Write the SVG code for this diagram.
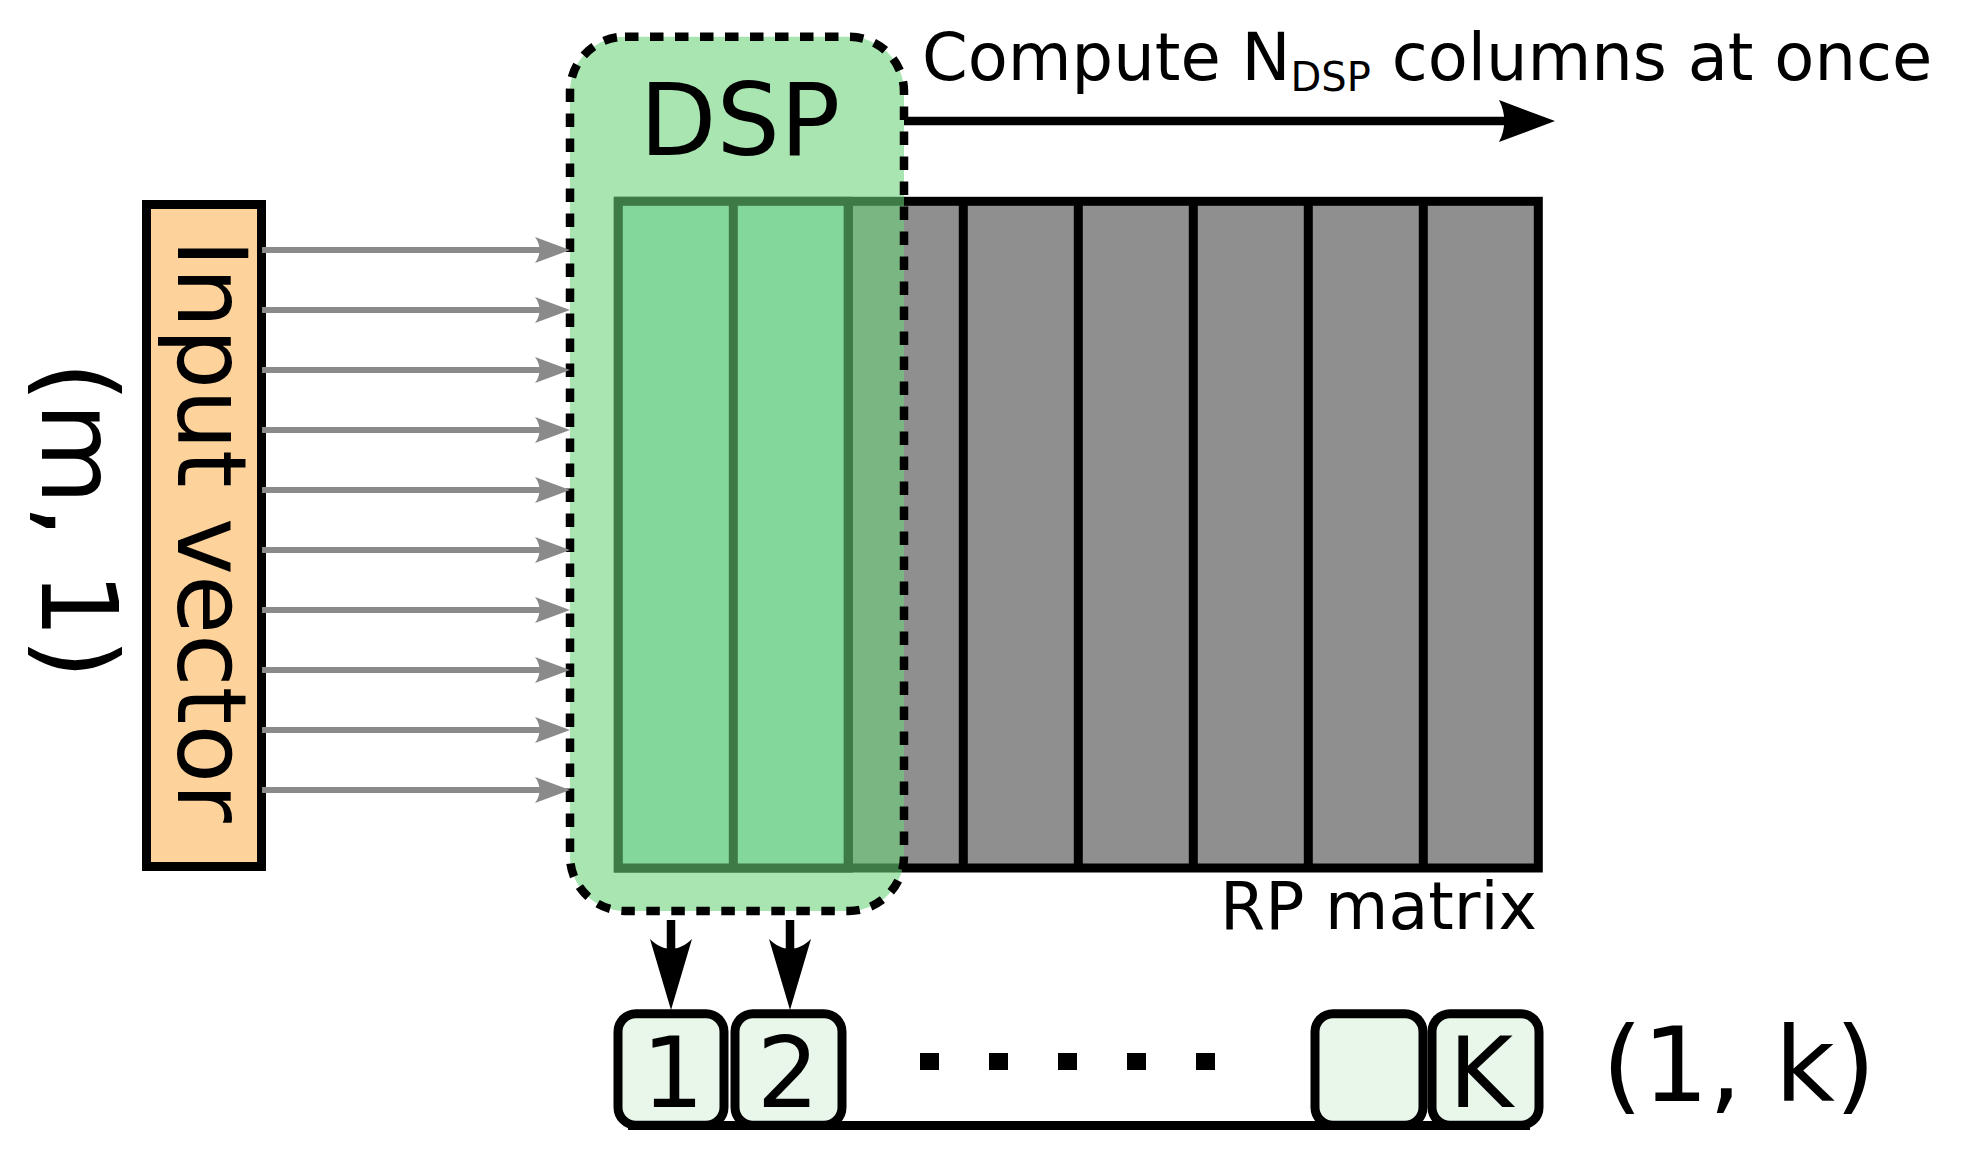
<svg xmlns="http://www.w3.org/2000/svg" width="1968" height="1153" viewBox="0 0 1968 1153">
<style>
text{font-family:"DejaVu Sans","Liberation Sans",sans-serif;fill:#000}
.gline{stroke:#8a8a8a;stroke-width:6;fill:none;marker-end:url(#ga)}
.bline{stroke:#000;stroke-width:8.5;fill:none}
.col{stroke:#000;stroke-width:9}
.obox{fill:#e9f7ea;stroke:#000;stroke-width:9}
.dot{fill:#000}
</style>
<defs>
<marker id="ga" markerUnits="userSpaceOnUse" viewBox="-40 -16 45 32" markerWidth="45" markerHeight="32" refX="-28" refY="0" orient="auto" overflow="visible">
<path d="M0,0 L-35,-13 C-29,-5 -29,5 -35,13 Z" fill="#8a8a8a"/>
</marker>
<marker id="ha" markerUnits="userSpaceOnUse" viewBox="-60 -24 64 48" markerWidth="64" markerHeight="48" refX="-48" refY="0" orient="auto" overflow="visible">
<path d="M0,0 L-56,-21 C-49,-8 -49,8 -56,21 Z" fill="#000"/>
</marker>
<marker id="va" markerUnits="userSpaceOnUse" viewBox="-75 -24 79 48" markerWidth="79" markerHeight="48" refX="-52" refY="0" orient="auto" overflow="visible">
<path d="M0,0 L-71,-21 C-58,-8 -58,8 -71,21 Z" fill="#000"/>
</marker>
</defs>

<g id="input-vector">
<rect x="146.5" y="204.5" width="115" height="662" fill="#fdd29b" stroke="#000" stroke-width="9"/>
<text transform="translate(177.7,239) rotate(90)" font-size="96">Input vector</text>
</g>
<g id="input-dim">
<text transform="translate(42,361.5) rotate(90)" font-size="105">(m, 1)</text>
</g>

<g id="rp-matrix">
<rect x="618.3" y="201.3" width="920" height="666.7" fill="#8f8f8f" class="col"/>
<rect x="618.3" y="201.3" width="230" height="666.7" fill="#a7ddca" class="col"/>
<g class="col">
<line x1="733.3" y1="201.3" x2="733.3" y2="868"/>
<line x1="848.3" y1="201.3" x2="848.3" y2="868"/>
<line x1="963.3" y1="201.3" x2="963.3" y2="868"/>
<line x1="1078.3" y1="201.3" x2="1078.3" y2="868"/>
<line x1="1193.3" y1="201.3" x2="1193.3" y2="868"/>
<line x1="1308.3" y1="201.3" x2="1308.3" y2="868"/>
<line x1="1423.3" y1="201.3" x2="1423.3" y2="868"/>
</g>
<text x="1537" y="929" font-size="65" text-anchor="end">RP matrix</text>
</g>

<g id="dsp">
<rect x="570" y="36.7" width="334" height="874.3" rx="55" ry="55" fill="#69d279" fill-opacity="0.58"/>
<rect x="570" y="36.7" width="334" height="874.3" rx="55" ry="55" fill="none" stroke="#000" stroke-width="8.5" stroke-dasharray="13.5 11.5"/>
<text x="740" y="155" font-size="100" text-anchor="middle">DSP</text>
</g>

<g id="compute-label">
<text x="922" y="80" font-size="65.5">Compute N<tspan font-size="40" dy="11">DSP</tspan><tspan dy="-11"> columns at once</tspan></text>
</g>

<g id="output-vector">
<line x1="628" y1="1125.5" x2="1530" y2="1125.5" stroke="#000" stroke-width="9"/>
<rect class="obox" x="618" y="1013.7" width="106" height="111.5" rx="18"/>
<rect class="obox" x="735" y="1013.7" width="107" height="111.5" rx="18"/>
<rect class="obox" x="1315" y="1013.7" width="108" height="111.5" rx="18"/>
<rect class="obox" x="1432" y="1013.7" width="107" height="111.5" rx="18"/>
<text x="673" y="1107" font-size="98" text-anchor="middle">1</text>
<text x="788" y="1107" font-size="98" text-anchor="middle">2</text>
<text x="1481" y="1107" font-size="98" text-anchor="middle">K</text>
<rect class="dot" x="920" y="1053" width="19" height="17"/>
<rect class="dot" x="989" y="1053" width="19" height="17"/>
<rect class="dot" x="1058" y="1053" width="19" height="17"/>
<rect class="dot" x="1127" y="1053" width="19" height="17"/>
<rect class="dot" x="1196" y="1053" width="19" height="17"/>
<text x="1602" y="1101" font-size="104">(1, k)</text>
</g>

<g id="connectors">
<line class="gline" x1="262" y1="250" x2="542" y2="250"/>
<line class="gline" x1="262" y1="310" x2="542" y2="310"/>
<line class="gline" x1="262" y1="370" x2="542" y2="370"/>
<line class="gline" x1="262" y1="430" x2="542" y2="430"/>
<line class="gline" x1="262" y1="490" x2="542" y2="490"/>
<line class="gline" x1="262" y1="550" x2="542" y2="550"/>
<line class="gline" x1="262" y1="610" x2="542" y2="610"/>
<line class="gline" x1="262" y1="670" x2="542" y2="670"/>
<line class="gline" x1="262" y1="730" x2="542" y2="730"/>
<line class="gline" x1="262" y1="790" x2="542" y2="790"/>
<line class="bline" x1="904" y1="121" x2="1507" y2="121" marker-end="url(#ha)"/>
<line class="bline" x1="671" y1="920" x2="671" y2="958" marker-end="url(#va)"/>
<line class="bline" x1="790" y1="920" x2="790" y2="958" marker-end="url(#va)"/>
</g>
</svg>
